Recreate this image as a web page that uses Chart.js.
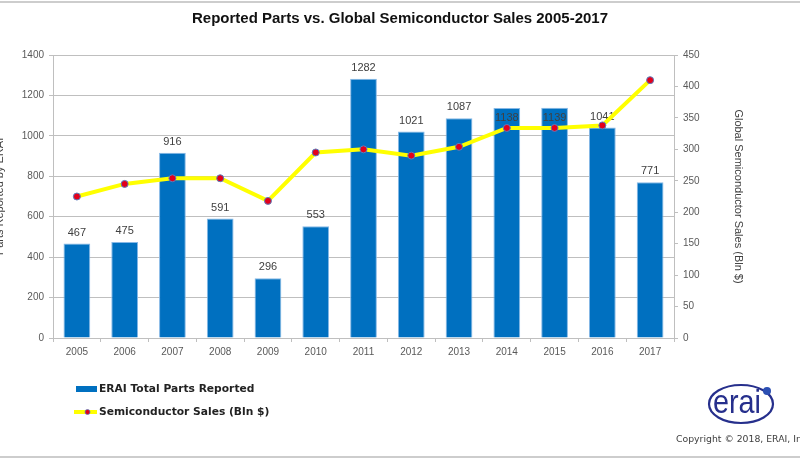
<!DOCTYPE html>
<html>
<head>
<meta charset="utf-8">
<script src="https://cdn.jsdelivr.net/npm/chart.js@4.4.1/dist/chart.umd.min.js"></script>
<style>
  html, body { margin: 0; padding: 0; background: #ffffff; }
  #wrap { position: relative; width: 800px; height: 460px; overflow: hidden; background: #fff; }
  #chart { position: absolute; left: 0; top: 0; }
  .rule { position: absolute; left: 0; width: 800px; height: 2px; background: #cdcdcd; }
  #legend { position: absolute; left: 74px; top: 382px; font: bold 10.7px "DejaVu Sans", sans-serif; color: #222; }
  .item { position: relative; height: 14px; line-height: 14px; margin-bottom: 9px; padding-left: 25px; white-space: nowrap; }
  .mk { position: absolute; left: 0; top: 0; width: 23px; height: 14px; }
  #copy { position: absolute; left: 676px; top: 433px; font: 9.3px "DejaVu Sans", sans-serif; color: #404040; white-space: nowrap; }
  #logo { position: absolute; left: 704px; top: 380px; }
</style>
</head>
<body>
<div id="wrap">
  <div class="rule" style="top:1px"></div>
  <canvas id="chart" width="800" height="460"></canvas>
  <div id="legend"></div>
  <svg id="logo" width="76" height="50" viewBox="0 0 76 50">
    <ellipse cx="37" cy="24" rx="32" ry="19" fill="none" stroke="#262f8c" stroke-width="2.2"/>
    <text x="9" y="33" font-family="Liberation Sans, Arial, sans-serif" font-size="33" fill="#262f8c" textLength="48" lengthAdjust="spacingAndGlyphs">erai</text>
    <circle cx="63" cy="11" r="4" fill="#2b4fb3"/>
  </svg>
  <div id="copy">Copyright © 2018, ERAI, Inc.</div>
  <div class="rule" style="top:456px"></div>
</div>
<script>
// ---- data ----
const years = ['2005','2006','2007','2008','2009','2010','2011','2012','2013','2014','2015','2016','2017'];
const partsReported = [467, 475, 916, 591, 296, 553, 1282, 1021, 1087, 1138, 1139, 1041, 771];
const semiconductorSales = [225, 245, 254, 254, 218, 295, 300, 290, 304, 334, 334, 338, 410];
const partsAxisMax = 1400, partsAxisStep = 200;
const salesAxisMax = 450, salesAxisStep = 50;
const titleText = 'Reported Parts vs. Global Semiconductor Sales 2005-2017';
const partsLabel = 'ERAI Total Parts Reported';
const salesLabel = 'Semiconductor Sales (Bln $)';
const leftAxisTitle = 'Parts Reported by ERAI';
const rightAxisTitle = 'Global Semiconductor Sales (Bln $)';

const GRID = '#bfbfbf';
const TICK = '#595959';
const FONT = '"Liberation Sans", Arial, sans-serif';

const barValueLabels = {
  id: 'barValueLabels',
  afterDatasetDraw(chart, args, opts) {
    if (args.index !== 0) return;
    const ctx = chart.ctx;
    ctx.save();
    ctx.font = '11px ' + FONT;
    ctx.fillStyle = '#404040';
    ctx.textAlign = 'center';
    ctx.textBaseline = 'middle';
    args.meta.data.forEach((bar, i) => {
      const inside = (opts.inside || []).includes(years[i]);
      const y = inside ? bar.y + 10 : bar.y - 11;
      ctx.fillText(String(partsReported[i]), bar.x, y);
    });
    ctx.restore();
  }
};

const plainTick = v => String(v);

const chart = new Chart(document.getElementById('chart'), {
  data: {
    labels: years,
    datasets: [
      {
        type: 'bar',
        label: partsLabel,
        data: partsReported,
        yAxisID: 'y',
        backgroundColor: '#0070c0',
        borderColor: '#86b8e6',
        borderWidth: 1,
        barPercentage: 0.56,
        categoryPercentage: 1,
        order: 1
      },
      {
        type: 'line',
        label: salesLabel,
        data: semiconductorSales,
        yAxisID: 'y1',
        borderColor: '#ffff00',
        borderWidth: 4,
        tension: 0,
        pointRadius: 3.5,
        pointBackgroundColor: '#e3001b',
        pointBorderColor: '#5a7dbf',
        pointBorderWidth: 1,
        order: 0
      }
    ]
  },
  options: {
    responsive: false,
    animation: false,
    layout: { padding: { left: 0, right: 0, top: 0, bottom: 100 } },
    plugins: {
      legend: { display: false },
      tooltip: { enabled: false },
      title: {
        display: true,
        text: titleText,
        color: '#111111',
        font: { family: FONT, size: 15, weight: 'bold' },
        padding: { top: 10, bottom: 27 }
      },
      barValueLabels: { inside: ['2014', '2015'] }
    },
    scales: {
      x: {
        grid: { offset: true, drawOnChartArea: false, drawTicks: true, tickLength: 4, color: GRID },
        border: { color: GRID },
        ticks: { color: TICK, font: { family: FONT, size: 10 }, padding: 4, maxRotation: 0 },
        afterFit(s) { s.height = 22; }
      },
      y: {
        position: 'left',
        min: 0, max: partsAxisMax,
        ticks: { stepSize: partsAxisStep, callback: plainTick, color: TICK, font: { family: FONT, size: 10 }, padding: 5 },
        grid: { color: GRID, tickLength: 4 },
        border: { color: GRID },
        title: { display: true, text: leftAxisTitle, color: '#404040', font: { family: FONT, size: 11 }, padding: { top: -7, bottom: 0 } },
        afterFit(s) { s.width = 53; }
      },
      y1: {
        position: 'right',
        min: 0, max: salesAxisMax,
        ticks: { stepSize: salesAxisStep, callback: plainTick, color: TICK, font: { family: FONT, size: 10 }, padding: 5 },
        grid: { drawOnChartArea: false, color: GRID, tickLength: 4 },
        border: { color: GRID },
        title: { display: true, text: rightAxisTitle, color: '#404040', font: { family: FONT, size: 11 }, padding: { top: 55, bottom: 0 } },
        afterFit(s) { s.width = 126; }
      }
    }
  },
  plugins: [barValueLabels]
});

// HTML legend built from the chart's datasets
const legend = document.getElementById('legend');
chart.data.datasets.forEach(ds => {
  const item = document.createElement('div');
  item.className = 'item';
  const mk = document.createElement('span');
  mk.className = 'mk';
  if (ds.type === 'bar') {
    mk.innerHTML = '<svg width="23" height="14"><rect x="2" y="4" width="21" height="6" fill="' + ds.backgroundColor + '"/></svg>';
  } else {
    mk.innerHTML = '<svg width="23" height="14"><line x1="0" y1="7" x2="23" y2="7" stroke="' + ds.borderColor + '" stroke-width="4"/><circle cx="13.5" cy="7" r="2.5" fill="' + ds.pointBackgroundColor + '" stroke="' + ds.pointBorderColor + '" stroke-width="0.8"/></svg>';
  }
  item.appendChild(mk);
  item.appendChild(document.createTextNode(ds.label));
  legend.appendChild(item);
});
</script>
</body>
</html>
